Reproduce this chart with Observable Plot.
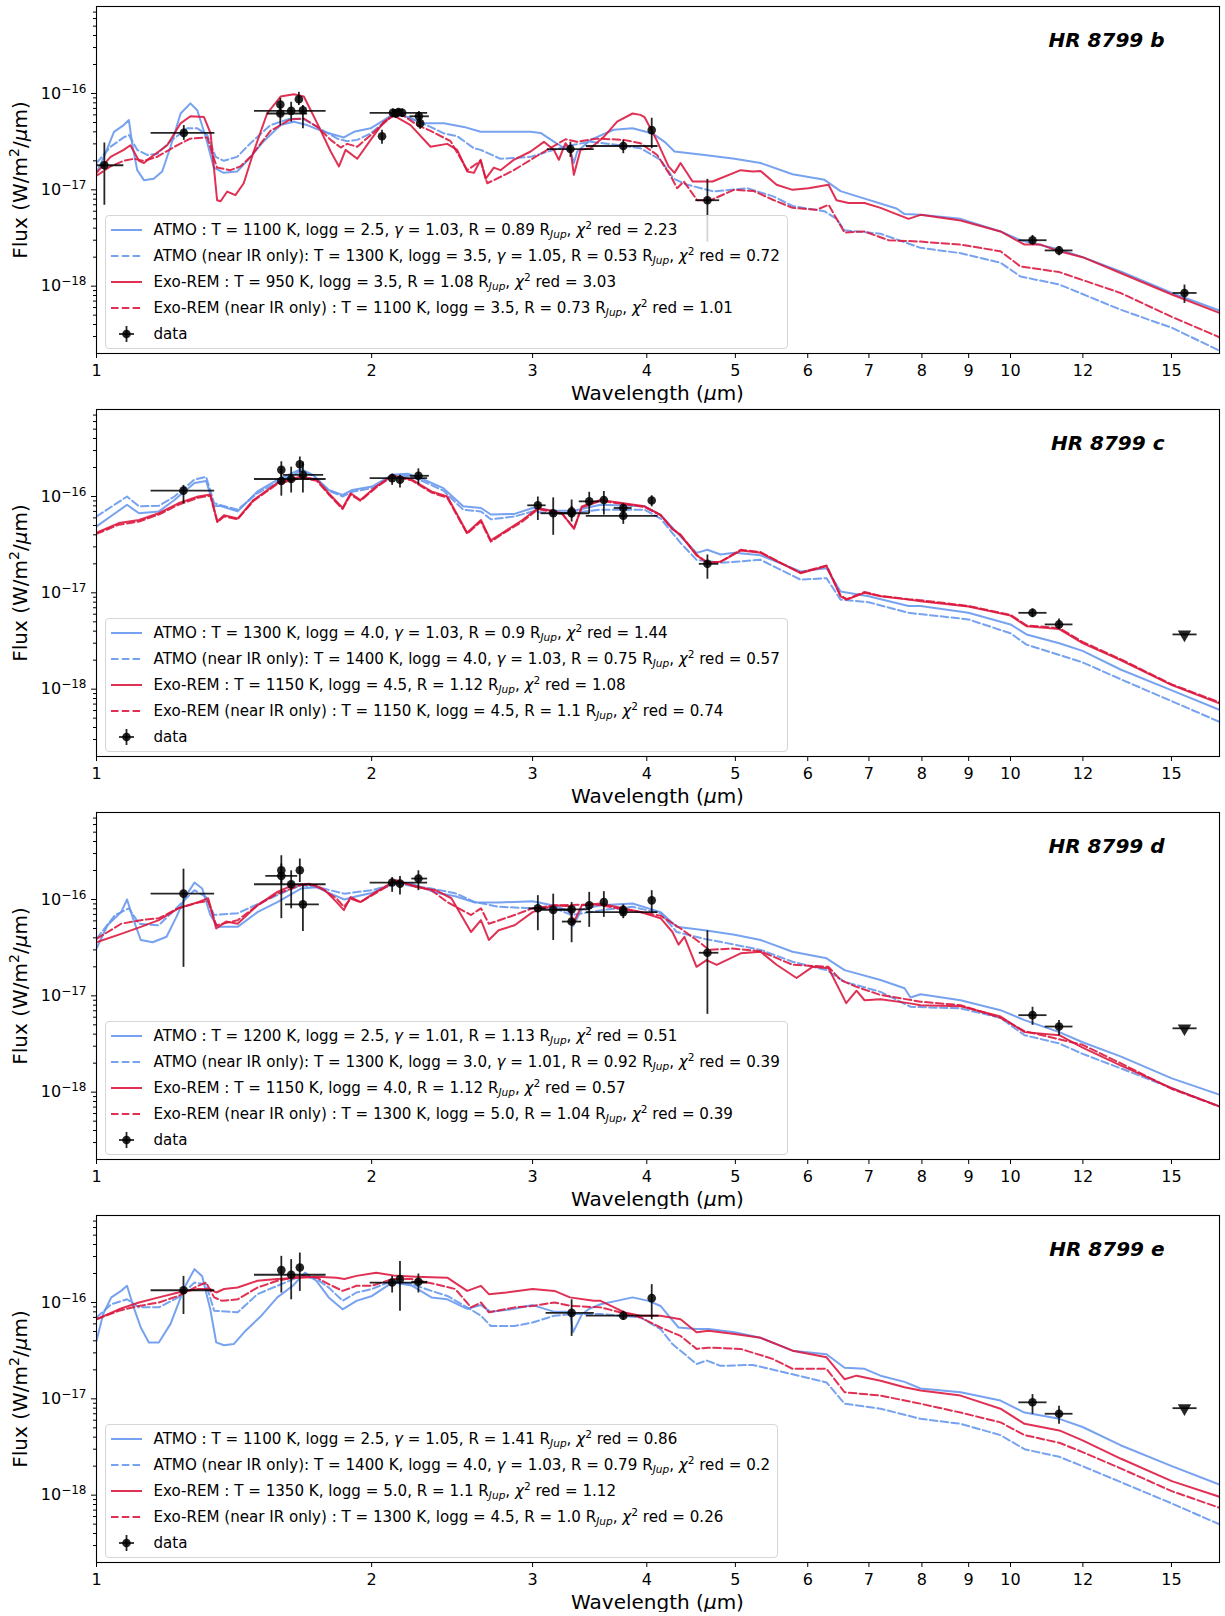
<!DOCTYPE html>
<html><head><meta charset="utf-8">
<script src="https://cdn.jsdelivr.net/npm/d3@7"></script>
<script src="https://cdn.jsdelivr.net/npm/@observablehq/plot@0.6"></script>
<style>
body{margin:0;background:#fff;font-family:"DejaVu Sans",sans-serif;color:#000;}
#root{position:relative;width:1225px;}
.panel{position:relative;width:1225px;height:403px;overflow:visible;}
.panel svg.plot{display:block;}
.legend{position:absolute;left:105px;top:214.5px;background:rgba(255,255,255,0.8);border:1px solid #d6d6d6;border-radius:4px;padding:2px 7px 1px 5px;font-size:15.1px;white-space:nowrap;}
.row{display:flex;align-items:center;height:25.85px;}
.smp{width:31px;height:20px;margin-right:11.5px;flex:none;}
sub{font-size:70%;vertical-align:-0.3em;line-height:0;}
sup{font-size:70%;vertical-align:0.55em;line-height:0;}
.xlabel{position:absolute;left:96px;width:1123px;top:381.5px;height:22px;line-height:22px;text-align:center;font-size:20px;}
.ylabel{position:absolute;left:-154.5px;top:168.5px;width:347px;height:22px;line-height:22px;text-align:center;font-size:20px;transform:rotate(-90deg);}
</style>
</head><body>
<div id="root"></div>
<script>
// Flux values are in units of 1e-17 W/m^2/um; wavelengths in um.
const FLUX_UNIT = 1e-17;
const X_TICKS = [1, 2, 3, 4, 5, 6, 7, 8, 9, 10, 12, 15];
const Y_MAJOR = [1e-18, 1e-17, 1e-16];
const Y_MINOR = [3e-19,4e-19,5e-19,6e-19,7e-19,8e-19,9e-19,2e-18,3e-18,4e-18,5e-18,6e-18,7e-18,8e-18,9e-18,2e-17,3e-17,4e-17,5e-17,6e-17,7e-17,8e-17,9e-17,2e-16,3e-16,4e-16,5e-16,6e-16,7e-16];
const MODEL_NAMES = ["ATMO :", "ATMO (near IR only):", "Exo-REM :", "Exo-REM (near IR only) :"];

// ---------- HR 8799 b ----------
const b_ATMO = [[1.000,1.5],[1.019,2.2],[1.045,4.0],[1.071,4.7],[1.085,5.3],[1.094,3.0],[1.108,1.6],[1.127,1.26],[1.155,1.3],[1.180,1.55],[1.205,2.8],[1.236,6.2],[1.267,7.9],[1.289,6.7],[1.316,3.6],[1.344,1.7],[1.378,1.5],[1.425,1.55],[1.462,2.0],[1.524,3.2],[1.590,4.7],[1.644,5.1],[1.700,4.7],[1.773,4.0],[1.865,3.5],[1.913,4.0],[1.995,4.35],[2.063,5.3],[2.115,6.2],[2.188,5.7],[2.282,4.9],[2.399,4.9],[2.523,4.5],[2.632,4.0],[2.767,4.0],[2.985,4.0],[3.061,3.9],[3.192,3.0],[3.301,2.5],[3.329,1.9],[3.357,2.5],[3.471,3.3],[3.681,4.2],[3.859,4.35],[4.058,3.85],[4.183,3.15],[4.289,2.5],[4.627,2.3],[4.990,2.1],[5.328,1.9],[5.775,1.45],[6.259,1.27],[6.517,0.97],[6.785,0.86],[7.504,0.64],[7.657,0.56],[7.973,0.55],[8.818,0.5],[9.751,0.37],[10.255,0.30],[11.308,0.24],[11.991,0.2],[13.194,0.142],[15.013,0.085],[17.0,0.055]];
const b_ATMO_NIR = [[1.000,1.9],[1.036,2.8],[1.071,3.5],[1.085,3.7],[1.108,2.6],[1.136,2.3],[1.165,2.35],[1.205,3.2],[1.257,4.35],[1.289,4.35],[1.322,3.7],[1.350,2.2],[1.378,2.0],[1.425,2.2],[1.474,3.05],[1.550,4.7],[1.631,5.5],[1.686,5.4],[1.744,4.5],[1.834,3.4],[1.881,3.2],[1.929,3.3],[1.995,3.85],[2.098,5.7],[2.151,6.2],[2.243,5.1],[2.320,4.5],[2.399,3.85],[2.481,3.6],[2.588,2.7],[2.632,2.6],[2.767,2.1],[2.985,2.2],[3.165,2.6],[3.301,2.9],[3.471,3.15],[3.744,2.9],[3.937,2.7],[4.141,2.05],[4.282,1.3],[4.428,1.13],[4.737,0.96],[5.152,1.04],[5.510,0.85],[5.775,0.68],[6.259,0.6],[6.451,0.5],[6.583,0.38],[7.208,0.35],[7.973,0.25],[8.818,0.22],[9.751,0.175],[10.255,0.126],[11.308,0.104],[13.194,0.057],[15.013,0.037],[17.0,0.021]];
const b_EXOREM = [[1.000,1.5],[1.036,2.2],[1.071,2.6],[1.089,2.9],[1.113,2.0],[1.127,1.9],[1.141,2.1],[1.195,2.9],[1.236,4.9],[1.267,5.8],[1.311,5.7],[1.333,3.85],[1.355,0.78],[1.367,0.76],[1.390,0.96],[1.419,0.88],[1.449,1.17],[1.486,2.5],[1.537,6.2],[1.590,9.3],[1.644,9.8],[1.686,9.3],[1.744,4.9],[1.804,2.5],[1.842,1.75],[1.873,2.6],[1.929,2.1],[1.995,3.3],[2.063,5.1],[2.115,5.9],[2.206,4.7],[2.320,2.8],[2.419,3.0],[2.481,2.6],[2.545,1.55],[2.588,1.5],[2.632,2.05],[2.665,1.3],[2.721,1.7],[2.767,1.6],[2.862,2.05],[2.985,2.5],[3.087,3.15],[3.165,2.6],[3.205,2.05],[3.259,3.05],[3.301,2.6],[3.329,1.43],[3.385,2.6],[3.471,2.7],[3.590,3.55],[3.712,5.1],[3.859,6.2],[3.937,6.0],[3.977,5.7],[4.099,3.3],[4.225,1.75],[4.289,1.5],[4.355,1.9],[4.489,1.22],[4.721,1.22],[5.067,1.6],[5.222,1.55],[5.328,1.57],[5.547,1.13],[5.775,1.0],[6.012,1.04],[6.323,1.13],[6.451,0.78],[6.649,0.73],[6.923,0.73],[7.208,0.65],[7.734,0.5],[7.973,0.55],[8.818,0.48],[9.751,0.37],[10.359,0.27],[10.785,0.27],[11.308,0.23],[11.991,0.2],[13.194,0.137],[15.013,0.082],[17.0,0.052]];
const b_EXOREM_NIR = [[1.000,1.4],[1.036,1.75],[1.071,2.0],[1.099,2.1],[1.127,2.0],[1.165,2.2],[1.225,2.9],[1.267,3.4],[1.322,3.5],[1.338,2.4],[1.355,1.7],[1.401,1.6],[1.437,1.75],[1.474,2.2],[1.550,4.1],[1.631,5.4],[1.686,5.5],[1.744,4.5],[1.804,3.3],[1.850,2.75],[1.881,3.0],[1.929,2.8],[1.995,3.7],[2.098,5.7],[2.151,6.2],[2.243,4.7],[2.320,4.1],[2.440,3.2],[2.545,1.6],[2.632,2.0],[2.676,1.17],[2.721,1.26],[2.862,1.6],[2.985,2.05],[3.113,2.6],[3.259,3.35],[3.356,3.15],[3.530,3.4],[3.775,3.3],[3.937,3.05],[4.106,2.3],[4.246,1.4],[4.318,1.04],[4.391,1.22],[4.542,0.78],[4.697,0.78],[4.982,1.0],[5.239,0.97],[5.510,0.78],[5.775,0.65],[6.134,0.62],[6.323,0.7],[6.583,0.36],[6.923,0.37],[7.354,0.3],[7.973,0.29],[8.818,0.27],[9.751,0.23],[10.255,0.16],[11.308,0.14],[13.194,0.085],[15.013,0.048],[17.0,0.029]];
// [wavelength, flux, wl_low, wl_high, flux_low, flux_high]
const b_DATA = [[1.02,1.8,0.97,1.07,0.7,3.1],[1.246,3.9,1.146,1.346,3.3,4.7],[1.589,7.7,null,null,6.6,9.0],[1.589,6.2,1.535,1.70,4.7,7.7],[1.633,6.6,1.487,1.781,5.1,8.2],[1.665,8.7,null,null,7.6,10.4],[1.682,6.7,null,null,4.35,7.6],[2.053,3.6,null,null,3.0,4.2],[2.11,6.3,1.99,2.30,5.7,7.0],[2.125,6.2,null,null,5.6,6.9],[2.14,6.4,null,null,5.8,7.0],[2.16,6.3,null,null,5.7,7.0],[2.253,5.8,2.20,2.31,5.1,6.6],[2.26,4.9,null,null,4.3,5.7],[3.30,2.65,3.11,3.50,2.2,3.15],[3.77,2.85,3.43,4.11,2.4,3.3],[4.05,4.17,null,null,2.7,5.6],[4.66,0.78,4.52,4.80,0.29,1.3],[10.57,0.30,10.2,10.95,0.27,0.34],[11.3,0.235,10.9,11.69,0.21,0.26],[15.5,0.085,15.04,15.98,0.067,0.104]];
const b_LIMITS = [];
const b_FITS = [["1100","2.5","1.03","0.89","2.23"],["1300","3.5","1.05","0.53","0.72"],["950","3.5",null,"1.08","3.03"],["1100","3.5",null,"0.73","1.01"]];

// ---------- HR 8799 c ----------
const c_ATMO = [[1.000,4.9],[1.048,6.7],[1.080,8.2],[1.113,6.7],[1.170,7.0],[1.217,9.2],[1.280,13.8],[1.318,14.5],[1.345,7.9],[1.365,8.0],[1.427,7.0],[1.500,11.3],[1.577,14.9],[1.674,19.2],[1.725,16.8],[1.795,11.7],[1.859,10.4],[1.905,11.7],[2.002,12.7],[2.106,16.8],[2.191,17.2],[2.280,15.0],[2.396,12.2],[2.519,7.9],[2.634,7.6],[2.700,6.5],[2.867,6.6],[3.000,7.6],[3.170,7.1],[3.330,7.1],[3.560,8.2],[3.977,7.9],[4.141,6.45],[4.355,3.85],[4.534,2.6],[4.66,2.8],[4.816,2.5],[4.990,2.6],[5.328,2.45],[5.892,1.67],[6.291,1.8],[6.517,1.03],[6.993,0.92],[7.734,0.73],[7.973,0.73],[8.992,0.62],[10.0,0.47],[10.411,0.37],[11.308,0.30],[11.991,0.25],[13.194,0.16],[15.013,0.097],[17.0,0.06]];
const c_ATMO_NIR = [[1.000,6.2],[1.080,10.0],[1.113,7.9],[1.170,8.0],[1.217,10.0],[1.280,15.0],[1.318,16.0],[1.345,8.5],[1.427,7.3],[1.500,10.8],[1.577,14.0],[1.674,18.4],[1.725,16.5],[1.795,11.5],[1.859,10.0],[1.905,11.2],[2.002,12.2],[2.106,16.0],[2.191,16.4],[2.280,14.3],[2.396,11.5],[2.519,7.3],[2.634,7.0],[2.700,5.8],[2.867,6.2],[3.000,7.0],[3.170,6.6],[3.330,6.8],[3.560,7.3],[3.977,7.3],[4.141,5.9],[4.355,3.3],[4.534,2.2],[4.816,2.05],[5.328,2.2],[5.892,1.37],[6.291,1.42],[6.517,0.85],[6.993,0.8],[7.734,0.62],[8.992,0.53],[10.0,0.38],[10.411,0.29],[11.991,0.19],[13.194,0.127],[15.013,0.075],[17.0,0.045]];
const c_EXOREM = [[1.000,4.2],[1.058,5.3],[1.113,5.7],[1.170,6.7],[1.229,8.5],[1.292,10.0],[1.332,10.5],[1.356,5.5],[1.379,6.4],[1.427,5.9],[1.485,9.2],[1.577,13.8],[1.674,16.1],[1.742,15.0],[1.795,10.8],[1.859,7.6],[1.897,10.8],[1.944,9.2],[2.023,12.7],[2.106,16.5],[2.213,15.0],[2.325,11.3],[2.420,10.0],[2.544,4.2],[2.634,5.7],[2.700,3.5],[2.782,4.2],[2.924,5.7],[3.043,7.6],[3.231,6.7],[3.330,4.6],[3.396,7.9],[3.560,9.2],[3.977,7.9],[4.141,6.45],[4.267,4.6],[4.355,4.0],[4.534,2.45],[4.66,2.05],[4.816,2.1],[5.067,2.75],[5.328,2.6],[5.603,2.05],[5.892,1.6],[6.291,1.9],[6.517,0.92],[6.62,0.85],[6.923,1.0],[7.208,0.92],[7.734,0.85],[7.973,0.82],[8.992,0.72],[10.0,0.58],[10.411,0.45],[11.308,0.42],[11.991,0.3],[13.194,0.2],[15.013,0.11],[17.0,0.07]];
const c_EXOREM_NIR = [[1.000,4.1],[1.058,5.1],[1.113,5.5],[1.170,6.5],[1.229,8.2],[1.292,9.7],[1.332,10.2],[1.356,5.4],[1.379,6.2],[1.427,5.8],[1.485,9.0],[1.577,13.5],[1.674,15.6],[1.742,14.6],[1.795,10.5],[1.859,7.4],[1.897,10.5],[1.944,9.0],[2.023,12.4],[2.106,16.2],[2.213,14.7],[2.325,11.0],[2.420,9.7],[2.544,4.1],[2.634,5.5],[2.700,3.4],[2.782,4.1],[2.924,5.5],[3.043,7.4],[3.231,6.6],[3.330,4.7],[3.396,7.7],[3.560,9.0],[3.977,7.8],[4.141,6.4],[4.267,4.6],[4.355,4.0],[4.534,2.5],[4.66,2.05],[4.816,2.1],[5.067,2.8],[5.328,2.65],[5.603,2.05],[5.892,1.62],[6.291,1.92],[6.517,0.94],[6.62,0.86],[6.923,1.02],[7.208,0.93],[7.734,0.86],[7.973,0.84],[8.992,0.73],[10.0,0.59],[10.411,0.46],[11.308,0.43],[11.991,0.31],[13.194,0.205],[15.013,0.112],[17.0,0.072]];
const c_DATA = [[1.245,11.5,1.146,1.345,8.5,13.2],[1.593,18.9,null,null,14.9,23.2],[1.593,14.5,null,null,10.2,19.6],[1.633,15.2,1.487,1.781,11.0,20.4],[1.669,21.6,null,null,18.0,26.0],[1.682,16.8,1.60,1.77,11.0,22.9],[2.106,15.5,1.99,2.30,13.2,17.3],[2.148,14.9,null,null,12.4,16.8],[2.25,16.4,2.20,2.31,13.4,19.6],[3.04,8.1,2.96,3.10,5.7,10.0],[3.16,6.7,3.06,3.28,4.0,9.8],[3.31,6.7,3.17,3.46,5.5,8.0],[3.31,7.0,null,null,6.0,9.3],[3.46,8.9,3.37,3.55,6.7,11.2],[3.59,9.2,null,null,6.5,11.4],[3.77,6.3,3.43,4.11,5.2,7.6],[3.77,7.6,3.68,3.85,6.6,8.5],[4.05,9.1,null,null,7.9,10.3],[4.66,2.0,4.56,4.79,1.4,2.5],[10.57,0.62,10.2,10.95,0.56,0.69],[11.3,0.47,10.9,11.69,0.42,0.54]];
const c_LIMITS = [[15.5,0.37,15.04,15.98]];
const c_FITS = [["1300","4.0","1.03","0.9","1.44"],["1400","4.0","1.03","0.75","0.57"],["1150","4.5",null,"1.12","1.08"],["1150","4.5",null,"1.1","0.74"]];

// ---------- HR 8799 d ----------
const d_ATMO = [[1.000,3.1],[1.028,5.4],[1.064,7.4],[1.080,10.0],[1.096,6.4],[1.118,3.8],[1.152,3.6],[1.193,4.1],[1.223,6.6],[1.254,11.1],[1.280,15.0],[1.305,13.0],[1.332,6.9],[1.358,5.2],[1.427,5.2],[1.500,7.4],[1.577,9.4],[1.674,13.0],[1.742,13.4],[1.795,11.7],[1.867,10.0],[1.925,10.8],[2.002,11.7],[2.127,15.0],[2.213,14.6],[2.349,11.8],[2.469,10.8],[2.595,9.3],[2.754,9.3],[3.000,9.6],[3.170,8.6],[3.296,7.5],[3.322,5.3],[3.396,7.9],[3.560,8.7],[3.859,9.1],[4.141,7.4],[4.312,5.2],[4.627,4.8],[4.990,4.3],[5.328,3.8],[5.775,2.87],[6.291,2.45],[6.583,1.85],[7.208,1.46],[7.657,1.2],[7.773,0.96],[7.973,1.04],[8.818,0.9],[9.751,0.71],[10.359,0.56],[11.308,0.42],[11.991,0.33],[13.194,0.235],[15.013,0.139],[17.0,0.093]];
const d_ATMO_NIR = [[1.000,3.9],[1.048,6.9],[1.085,8.1],[1.113,5.6],[1.170,5.4],[1.242,9.4],[1.280,12.5],[1.318,10.6],[1.345,6.9],[1.427,7.2],[1.577,11.1],[1.674,14.1],[1.742,13.5],[1.867,11.5],[2.002,12.5],[2.127,14.6],[2.325,13.0],[2.469,11.6],[2.595,9.4],[2.754,8.4],[3.000,8.1],[3.170,8.1],[3.310,6.9],[3.590,7.8],[3.859,8.4],[4.141,7.2],[4.312,4.6],[4.627,3.9],[4.990,3.4],[5.328,3.0],[5.775,2.26],[6.291,1.85],[6.583,1.4],[7.208,1.1],[7.773,0.77],[8.818,0.74],[9.751,0.59],[10.359,0.39],[11.308,0.32],[11.991,0.25],[13.194,0.177],[15.013,0.11],[17.0,0.07]];
const d_EXOREM = [[1.000,3.6],[1.064,4.4],[1.118,5.2],[1.170,6.1],[1.229,8.1],[1.292,9.4],[1.325,10.3],[1.352,5.0],[1.386,5.9],[1.427,5.6],[1.500,8.7],[1.577,12.0],[1.641,14.1],[1.708,14.6],[1.777,12.5],[1.831,9.4],[1.865,7.75],[1.897,10.6],[1.944,9.4],[2.023,12.0],[2.127,15.9],[2.236,13.5],[2.349,12.5],[2.445,10.3],[2.569,4.6],[2.634,6.1],[2.687,3.8],[2.754,4.8],[2.867,5.4],[3.000,7.4],[3.170,8.7],[3.296,8.5],[3.322,5.6],[3.396,8.7],[3.560,9.1],[3.937,7.4],[4.141,6.4],[4.267,4.6],[4.333,3.4],[4.398,4.1],[4.534,2.0],[4.65,2.35],[4.77,2.1],[5.067,2.76],[5.328,2.87],[5.547,2.1],[5.833,1.53],[6.072,2.0],[6.323,1.93],[6.517,1.1],[6.61,0.84],[6.785,1.13],[6.923,0.9],[7.208,0.92],[7.734,0.84],[7.973,0.8],[8.818,0.78],[9.751,0.61],[10.359,0.42],[11.308,0.39],[11.991,0.29],[13.194,0.19],[15.013,0.11],[17.0,0.07]];
const d_EXOREM_NIR = [[1.000,3.9],[1.064,5.6],[1.118,6.1],[1.170,6.4],[1.229,8.1],[1.292,9.3],[1.325,9.6],[1.352,5.4],[1.427,6.1],[1.500,8.7],[1.577,11.5],[1.674,14.1],[1.742,14.1],[1.831,10.2],[1.865,8.4],[1.897,10.2],[1.944,9.4],[2.127,15.5],[2.325,12.5],[2.420,9.4],[2.569,6.9],[2.634,8.1],[2.687,5.6],[2.867,6.9],[3.000,8.1],[3.170,8.7],[3.499,8.9],[3.560,8.7],[4.141,6.8],[4.355,5.0],[4.534,3.8],[4.68,3.0],[4.96,3.1],[5.328,2.9],[5.775,2.1],[6.323,2.0],[6.517,1.46],[6.785,1.24],[7.208,1.02],[7.973,0.87],[8.818,0.8],[9.751,0.59],[10.359,0.43],[11.991,0.31],[13.194,0.2],[15.013,0.108],[17.0,0.07]];
const d_DATA = [[1.245,11.5,1.146,1.345,2.0,20.9],[1.593,20.1,null,null,14.6,28.8],[1.593,17.6,1.53,1.658,6.4,23.6],[1.633,14.4,1.487,1.781,8.1,20.1],[1.669,20.1,null,null,15.2,26.6],[1.682,8.9,1.608,1.751,4.7,14.1],[2.106,15.0,1.99,2.30,12.0,17.1],[2.148,14.6,null,null,11.3,17.5],[2.25,16.5,2.21,2.30,12.5,20.1],[3.04,8.1,2.97,3.10,4.8,11.1],[3.16,7.8,3.06,3.28,3.8,11.5],[3.31,7.9,3.17,3.46,6.9,9.4],[3.31,5.9,3.23,3.39,3.6,7.9],[3.46,8.7,null,null,5.2,12.0],[3.59,9.4,null,null,6.6,12.2],[3.77,7.4,3.43,4.11,6.4,8.7],[3.77,7.8,null,null,6.8,8.9],[4.05,9.8,null,null,7.2,12.5],[4.66,2.8,4.56,4.79,0.65,4.8],[10.57,0.63,10.2,10.95,0.5,0.77],[11.3,0.48,10.9,11.69,0.39,0.56]];
const d_LIMITS = [[15.5,0.46,15.04,15.98]];
const d_FITS = [["1200","2.5","1.01","1.13","0.51"],["1300","3.0","1.01","0.92","0.39"],["1150","4.0",null,"1.12","0.57"],["1300","5.0",null,"1.04","0.39"]];

// ---------- HR 8799 e ----------
const e_ATMO = [[1.000,4.0],[1.017,7.6],[1.038,11.3],[1.064,13.2],[1.080,14.9],[1.096,9.4],[1.118,5.5],[1.141,3.85],[1.170,3.85],[1.205,6.0],[1.248,14.3],[1.280,22.2],[1.305,18.7],[1.332,8.5],[1.352,3.85],[1.379,3.6],[1.413,3.7],[1.456,5.1],[1.515,7.3],[1.577,11.3],[1.641,15.0],[1.691,20.4],[1.742,16.6],[1.795,11.3],[1.859,8.5],[1.925,10.4],[2.002,11.7],[2.106,16.1],[2.213,15.0],[2.325,11.3],[2.420,10.8],[2.544,8.6],[2.634,9.4],[2.700,8.0],[2.867,8.6],[3.000,9.4],[3.170,8.0],[3.296,8.0],[3.322,4.9],[3.396,7.5],[3.460,8.6],[3.560,9.6],[3.707,10.4],[3.859,11.3],[4.018,10.4],[4.141,9.2],[4.225,7.3],[4.333,5.5],[4.534,5.3],[4.674,5.3],[4.990,4.9],[5.328,4.3],[5.775,3.16],[6.291,2.9],[6.583,2.1],[6.923,2.05],[7.208,1.74],[7.657,1.5],[7.973,1.28],[8.818,1.17],[9.751,0.96],[10.359,0.72],[11.308,0.62],[11.991,0.51],[13.194,0.33],[15.013,0.20],[17.0,0.127]];
const e_ATMO_NIR = [[1.000,7.0],[1.038,9.6],[1.080,10.8],[1.113,8.9],[1.170,8.9],[1.229,11.3],[1.280,16.1],[1.318,15.5],[1.345,8.2],[1.427,7.9],[1.500,12.2],[1.577,14.9],[1.674,18.9],[1.742,17.5],[1.795,14.3],[1.859,10.4],[1.925,12.7],[2.002,13.8],[2.106,16.8],[2.213,15.5],[2.325,13.2],[2.420,11.7],[2.544,8.9],[2.634,7.3],[2.700,5.7],[2.867,5.7],[3.000,6.2],[3.170,7.3],[3.330,7.6],[3.560,7.6],[3.937,7.0],[4.141,5.3],[4.267,3.7],[4.534,2.3],[4.65,2.5],[4.816,2.2],[5.222,2.25],[5.775,1.8],[6.291,1.48],[6.583,0.89],[7.208,0.79],[7.973,0.62],[8.818,0.55],[9.751,0.42],[10.359,0.30],[11.308,0.25],[11.991,0.2],[13.194,0.137],[15.013,0.082],[17.0,0.049]];
const e_EXOREM = [[1.000,6.7],[1.058,8.5],[1.113,10.0],[1.170,11.3],[1.229,12.7],[1.292,13.8],[1.332,13.8],[1.352,12.7],[1.379,13.8],[1.427,14.3],[1.500,16.8],[1.577,17.5],[1.674,18.1],[1.742,18.5],[1.831,18.1],[1.867,17.5],[1.925,18.9],[2.023,20.4],[2.127,18.9],[2.236,18.5],[2.420,18.1],[2.544,13.2],[2.634,14.9],[2.687,12.2],[2.809,12.7],[3.000,13.8],[3.170,13.2],[3.296,11.3],[3.499,10.4],[3.560,10.4],[3.783,7.9],[3.937,7.3],[4.141,7.3],[4.355,6.7],[4.534,4.9],[4.674,5.1],[4.990,4.7],[5.328,4.3],[5.775,3.16],[6.291,2.7],[6.583,1.6],[6.785,1.74],[7.208,1.54],[7.657,1.32],[7.973,1.22],[8.818,1.08],[9.751,0.79],[10.359,0.55],[11.308,0.47],[11.991,0.37],[13.194,0.24],[15.013,0.14],[17.0,0.095]];
const e_EXOREM_NIR = [[1.000,6.7],[1.058,8.2],[1.113,9.2],[1.170,10.0],[1.229,11.7],[1.292,14.9],[1.318,16.1],[1.345,11.3],[1.372,10.4],[1.427,10.8],[1.500,14.3],[1.577,16.8],[1.674,18.9],[1.742,18.1],[1.795,15.5],[1.859,13.2],[1.925,14.9],[2.002,14.9],[2.106,17.5],[2.213,17.5],[2.349,15.5],[2.469,13.8],[2.569,8.9],[2.634,10.0],[2.687,7.9],[2.867,8.9],[3.000,9.2],[3.170,10.0],[3.310,9.2],[3.560,8.9],[3.937,7.0],[4.141,5.5],[4.355,4.5],[4.534,3.3],[4.674,3.4],[5.067,3.3],[5.490,2.6],[5.775,2.05],[6.291,2.05],[6.583,1.17],[7.208,1.08],[7.973,0.89],[8.818,0.72],[9.751,0.57],[10.359,0.42],[11.308,0.35],[11.991,0.28],[13.194,0.19],[15.013,0.11],[17.0,0.073]];
const e_DATA = [[1.245,13.4,1.146,1.345,7.6,18.9],[1.593,21.7,null,null,12.7,30.5],[1.633,19.4,1.487,1.781,10.8,28.2],[1.669,23.1,null,null,13.2,33.0],[2.106,16.1,1.99,2.30,12.7,18.9],[2.148,17.5,null,null,8.2,27.0],[2.25,16.4,2.21,2.30,12.7,20.0],[3.31,7.8,3.10,3.50,4.5,10.8],[3.77,7.3,3.43,4.12,6.6,8.2],[4.05,11.1,null,null,6.7,15.5],[10.57,0.92,10.2,10.95,0.7,1.12],[11.3,0.70,10.9,11.69,0.55,0.85]];
const e_LIMITS = [[15.5,0.80,15.04,15.98]];
const e_FITS = [["1100","2.5","1.05","1.41","0.86"],["1400","4.0","1.03","0.79","0.2"],["1350","5.0",null,"1.1","1.12"],["1300","4.5",null,"1.0","0.26"]];

const PANELS = [
  {title: "HR 8799 b", models: [b_ATMO, b_ATMO_NIR, b_EXOREM, b_EXOREM_NIR], data: b_DATA, limits: b_LIMITS, fits: b_FITS},
  {title: "HR 8799 c", models: [c_ATMO, c_ATMO_NIR, c_EXOREM, c_EXOREM_NIR], data: c_DATA, limits: c_LIMITS, fits: c_FITS},
  {title: "HR 8799 d", models: [d_ATMO, d_ATMO_NIR, d_EXOREM, d_EXOREM_NIR], data: d_DATA, limits: d_LIMITS, fits: d_FITS},
  {title: "HR 8799 e", models: [e_ATMO, e_ATMO_NIR, e_EXOREM, e_EXOREM_NIR], data: e_DATA, limits: e_LIMITS, fits: e_FITS}
];

const BLUE = "cornflowerblue", RED = "crimson";
const DASH = "7.5,3.3";
const MODEL_STYLES = [[BLUE, null], [BLUE, DASH], [RED, null], [RED, DASH]];

function toSeries(pairs) { return pairs.map(([wl, f]) => ({wl, f: f * FLUX_UNIT})); }

function makePlot(p) {
  const marks = [];
  p.models.forEach((pairs, i) => {
    const [color, dash] = MODEL_STYLES[i];
    const opts = {x: "wl", y: "f", stroke: color, strokeWidth: 2, strokeOpacity: 0.88, clip: true};
    if (dash) opts.strokeDasharray = dash;
    marks.push(Plot.line(toSeries(pairs), opts));
  });
  const pts = p.data.map(([wl, f, xl, xh, yl, yh]) => ({wl, f: f * FLUX_UNIT, xl, xh, yl: yl * FLUX_UNIT, yh: yh * FLUX_UNIT}));
  const errStyle = {stroke: "black", strokeOpacity: 0.85, strokeWidth: 1.8, clip: true};
  marks.push(Plot.link(pts.filter(d => d.xl != null), {x1: "xl", x2: "xh", y1: "f", y2: "f", ...errStyle}));
  marks.push(Plot.link(pts, {x1: "wl", x2: "wl", y1: "yl", y2: "yh", ...errStyle}));
  marks.push(Plot.dot(pts, {x: "wl", y: "f", r: 4.3, fill: "black", fillOpacity: 0.85, stroke: null}));
  const lims = p.limits.map(([wl, f, xl, xh]) => ({wl, f: f * FLUX_UNIT, xl, xh}));
  marks.push(Plot.link(lims, {x1: "xl", x2: "xh", y1: "f", y2: "f", ...errStyle}));
  marks.push(Plot.dot(lims, {x: "wl", y: "f", symbol: "triangle", rotate: 180, r: 5, fill: "black", fillOpacity: 0.85, stroke: null}));
  marks.push(Plot.frame({stroke: "black", strokeWidth: 1.1}));
  marks.push(Plot.axisX({ticks: X_TICKS, tickFormat: d => String(d), tickSize: 5, tickPadding: 6, label: null, fontSize: 16}));
  marks.push(Plot.axisY({ticks: Y_MAJOR, tickFormat: d => "10^" + Math.round(Math.log10(d)), tickSize: 5, tickPadding: 5, label: null, fontSize: 16}));
  marks.push(Plot.axisY({ticks: Y_MINOR, tickFormat: () => "", tickSize: 3, label: null}));
  marks.push(Plot.text([p.title], {frameAnchor: "top-right", dx: -55, dy: 34, textAnchor: "end", lineAnchor: "middle", fontSize: 20, fontWeight: "bold", fontStyle: "italic", fill: "black"}));
  const svg = Plot.plot({
    width: 1225, height: 403,
    marginLeft: 96, marginRight: 6, marginTop: 6, marginBottom: 50,
    style: {fontFamily: "DejaVu Sans", fontSize: "16px", color: "black", background: "white"},
    x: {type: "log", domain: [1, 16.93]},
    y: {type: "log", domain: [2e-19, 8e-16]},
    marks
  });
  svg.classList.add("plot");
  // superscript exponents on the y tick labels
  svg.querySelectorAll("text").forEach(t => {
    const m = /^10\^(-?\d+)$/.exec(t.textContent.trim());
    if (!m) return;
    const e = parseInt(m[1], 10);
    while (t.firstChild) t.removeChild(t.firstChild);
    t.appendChild(document.createTextNode("10"));
    const ts = document.createElementNS("http://www.w3.org/2000/svg", "tspan");
    ts.setAttribute("dy", "-0.5em");
    ts.setAttribute("font-size", "12");
    ts.textContent = (e < 0 ? "\u2212" : "") + Math.abs(e);
    t.appendChild(ts);
  });
  return svg;
}

function lineSample(color, dash) {
  return `<svg class="smp" viewBox="0 0 31 20"><line x1="0" y1="10" x2="31" y2="10" stroke="${color}" stroke-opacity="0.88" stroke-width="2"${dash ? ` stroke-dasharray="${dash}"` : ""}/></svg>`;
}
function dataSample() {
  return `<svg class="smp" viewBox="0 0 31 20"><line x1="8" y1="10" x2="23" y2="10" stroke="black" stroke-opacity="0.85" stroke-width="1.8"/><line x1="15.5" y1="2" x2="15.5" y2="18" stroke="black" stroke-opacity="0.85" stroke-width="1.8"/><circle cx="15.5" cy="10" r="4.3" fill="black" fill-opacity="0.85"/></svg>`;
}
function fitLabel(i, fit) {
  const [T, g, gam, R, chi] = fit;
  return `${MODEL_NAMES[i]} T = ${T} K, logg = ${g}, ` + (gam ? `<i>γ</i> = ${gam}, ` : "") +
    `R = ${R} R<sub><i>Jup</i></sub>, <i>χ</i><sup>2</sup> red = ${chi}`;
}

const root = document.getElementById("root");
PANELS.forEach(p => {
  const div = document.createElement("div");
  div.className = "panel";
  div.appendChild(makePlot(p));
  const leg = document.createElement("div");
  leg.className = "legend";
  let html = "";
  p.fits.forEach((fit, i) => {
    const [color, dash] = MODEL_STYLES[i];
    html += `<div class="row">${lineSample(color, dash)}<span>${fitLabel(i, fit)}</span></div>`;
  });
  html += `<div class="row">${dataSample()}<span>data</span></div>`;
  leg.innerHTML = html;
  div.appendChild(leg);
  const xl = document.createElement("div");
  xl.className = "xlabel";
  xl.innerHTML = "Wavelength (<i>μ</i>m)";
  div.appendChild(xl);
  const yl = document.createElement("div");
  yl.className = "ylabel";
  yl.innerHTML = "Flux (W/m<sup>2</sup>/<i>μ</i>m)";
  div.appendChild(yl);
  root.appendChild(div);
});
</script>
</body></html>
